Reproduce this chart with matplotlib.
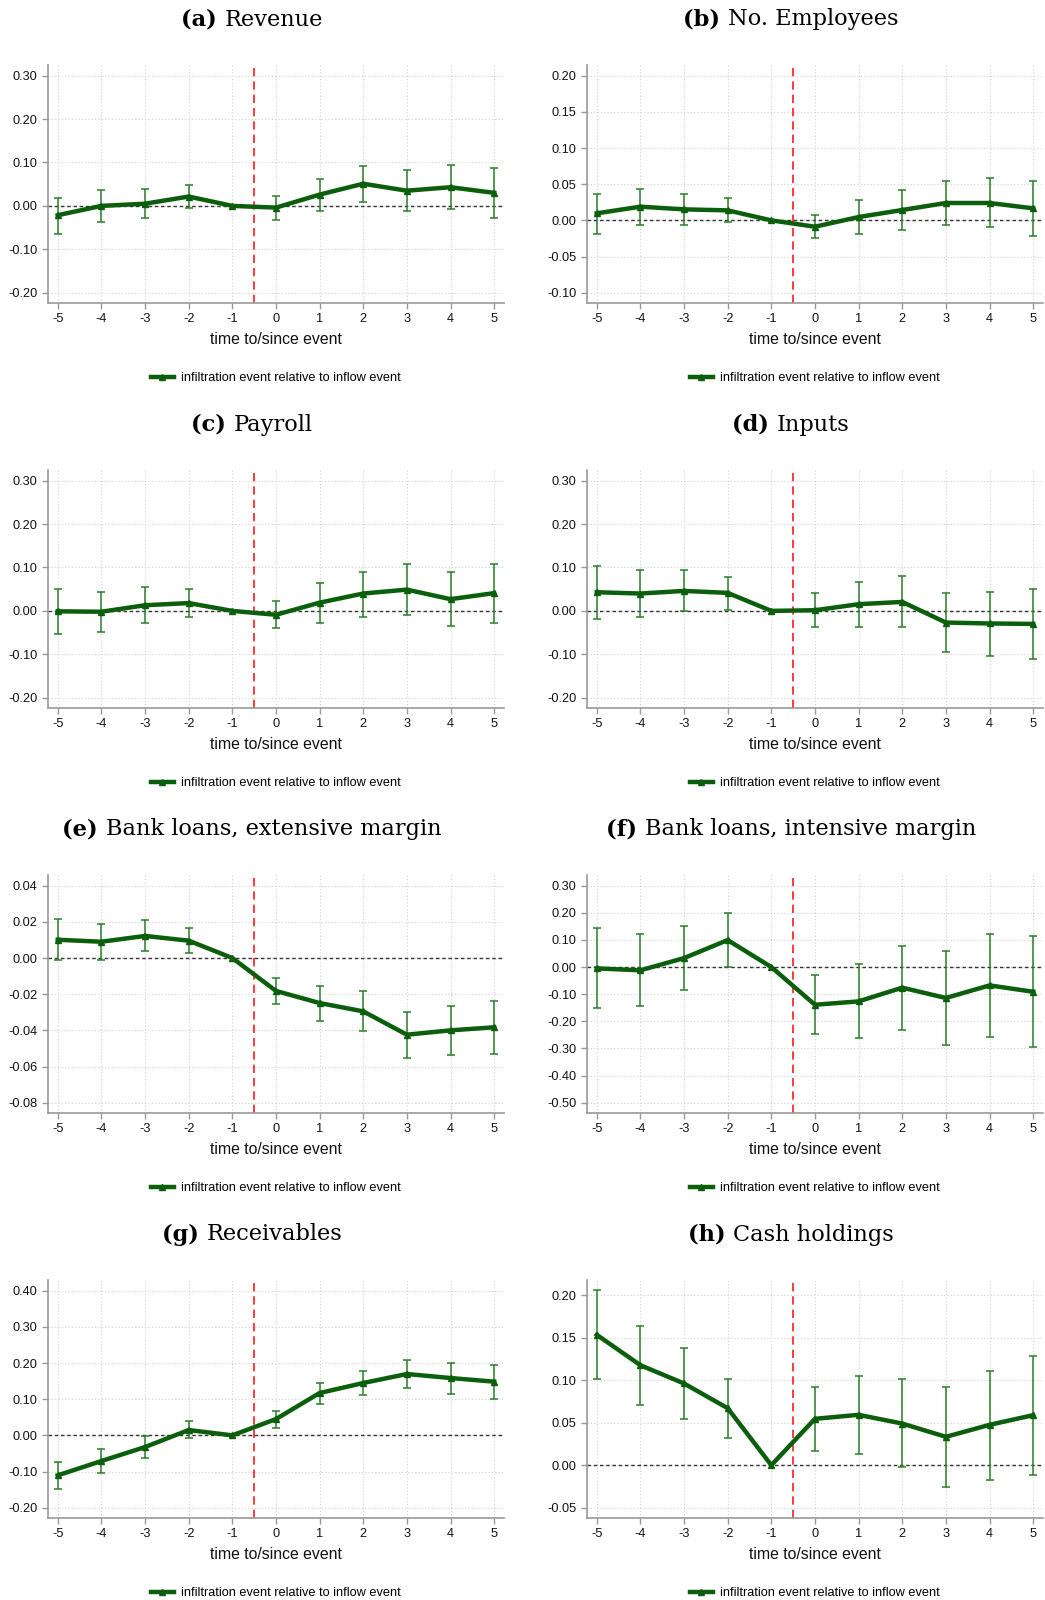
import numpy as np
import matplotlib
matplotlib.use("Agg")
import matplotlib.pyplot as plt
from matplotlib.lines import Line2D

plt.rcParams['font.family'] = ['Liberation Sans', 'DejaVu Sans']

# event time
periods = [-5, -4, -3, -2, -1, 0, 1, 2, 3, 4, 5]

# coefficient, upper and lower CI per panel -- period -1 is the reference (no CI)
rev_coef = [-0.0215, 0.0, 0.005, 0.0215, 0.0, -0.004, 0.026, 0.051, 0.035, 0.043, 0.030]
rev_hi = [0.019, 0.037, 0.038, 0.048, np.nan, 0.023, 0.062, 0.093, 0.082, 0.094, 0.087]
rev_lo = [-0.065, -0.038, -0.028, -0.006, np.nan, -0.032, -0.011, 0.010, -0.012, -0.008, -0.027]

emp_coef = [0.0097, 0.0189, 0.0152, 0.0138, 0.0, -0.0088, 0.0046, 0.0143, 0.024, 0.024, 0.0166]
emp_hi = [0.0364, 0.0429, 0.036, 0.0304, np.nan, 0.0069, 0.0281, 0.0415, 0.0548, 0.058, 0.0548]
emp_lo = [-0.0184, -0.006, -0.0065, -0.0023, np.nan, -0.0244, -0.0189, -0.0134, -0.0069, -0.0097, -0.0221]

pay_coef = [-0.001, -0.002, 0.013, 0.018, 0.0, -0.009, 0.019, 0.040, 0.049, 0.027, 0.041]
pay_hi = [0.051, 0.0445, 0.054, 0.051, np.nan, 0.023, 0.0645, 0.0906, 0.107, 0.089, 0.108]
pay_lo = [-0.054, -0.049, -0.028, -0.014, np.nan, -0.040, -0.027, -0.013, -0.0085, -0.035, -0.028]

inp_coef = [0.043, 0.040, 0.046, 0.0415, 0.0, 0.0015, 0.0154, 0.0207, -0.0269, -0.029, -0.030]
inp_hi = [0.103, 0.0945, 0.0937, 0.079, np.nan, 0.0415, 0.0676, 0.0806, 0.0415, 0.0445, 0.0507]
inp_lo = [-0.018, -0.0146, -0.001, 0.003, np.nan, -0.038, -0.037, -0.038, -0.095, -0.103, -0.1106]

ext_coef = [0.0101, 0.009, 0.0122, 0.0096, 0.0, -0.0182, -0.0249, -0.0295, -0.0424, -0.040, -0.0383]
ext_hi = [0.0214, 0.019, 0.0208, 0.0164, np.nan, -0.0111, -0.0155, -0.0184, -0.030, -0.0265, -0.0236]
ext_lo = [-0.0009, -0.0011, 0.0037, 0.0026, np.nan, -0.0256, -0.0347, -0.0406, -0.0553, -0.0535, -0.0533]

int_coef = [-0.005, -0.012, 0.033, 0.0995, 0.0, -0.139, -0.1265, -0.076, -0.114, -0.0676, -0.091]
int_hi = [0.144, 0.122, 0.152, 0.199, np.nan, -0.031, 0.0098, 0.077, 0.060, 0.1228, 0.113]
int_lo = [-0.152, -0.145, -0.085, 0.0, np.nan, -0.248, -0.263, -0.232, -0.2875, -0.256, -0.295]

rec_coef = [-0.1106, -0.071, -0.0323, 0.0147, 0.0, 0.045, 0.117, 0.1447, 0.1696, 0.1585, 0.1484]
rec_hi = [-0.0737, -0.0378, -0.0028, 0.0387, np.nan, 0.068, 0.1456, 0.179, 0.2083, 0.201, 0.1954]
rec_lo = [-0.148, -0.105, -0.0618, -0.0083, np.nan, 0.0203, 0.0876, 0.1106, 0.1318, 0.1143, 0.0995]

cash_coef = [0.1535, 0.1177, 0.0962, 0.0671, 0.0, 0.0546, 0.0593, 0.049, 0.0334, 0.0475, 0.0589]
cash_hi = [0.206, 0.1641, 0.1378, 0.102, np.nan, 0.0915, 0.1048, 0.1009, 0.0918, 0.111, 0.128]
cash_lo = [0.1013, 0.0706, 0.0542, 0.0322, np.nan, 0.0165, 0.0137, -0.0024, -0.0251, -0.0169, -0.011]

letters = ['(a)', '(b)', '(c)', '(d)', '(e)', '(f)', '(g)', '(h)']
titles = ['Revenue', 'No. Employees', 'Payroll', 'Inputs',
          'Bank loans, extensive margin', 'Bank loans, intensive margin',
          'Receivables', 'Cash holdings']
series = [(rev_coef, rev_hi, rev_lo), (emp_coef, emp_hi, emp_lo),
          (pay_coef, pay_hi, pay_lo), (inp_coef, inp_hi, inp_lo),
          (ext_coef, ext_hi, ext_lo), (int_coef, int_hi, int_lo),
          (rec_coef, rec_hi, rec_lo), (cash_coef, cash_hi, cash_lo)]
# y tick range (low, high, step) per panel
ytick_specs = [(-0.20, 0.30, 0.10), (-0.10, 0.20, 0.05), (-0.20, 0.30, 0.10),
               (-0.20, 0.30, 0.10), (-0.08, 0.04, 0.02), (-0.50, 0.30, 0.10),
               (-0.20, 0.40, 0.10), (-0.05, 0.20, 0.05)]
legend_label = 'infiltration event relative to inflow event'

W, H = 1045, 1600
fig = plt.figure(figsize=(W / 100, H / 100), dpi=100)

green = '#0b5e0b'
ci_green = '#2a7f2a'
col_x = [47.7, 586.7]
ax_w = 456.5
row_top = 65
ax_h = 237.7
row_step = 405

for i in range(8):
    r, c = divmod(i, 2)
    top = row_top + r * row_step
    ax = fig.add_axes([col_x[c] / W, 1 - (top + ax_h) / H, ax_w / W, ax_h / H])
    coef, hi, lo = series[i]
    x = np.array(periods)
    coef = np.array(coef); hi = np.array(hi); lo = np.array(lo)

    ax.axhline(0, color='#333333', ls=(0, (2.5, 2)), lw=1.0, zorder=1)
    ax.axvline(-0.5, color='#ff1a1a', ls=(0, (5, 3)), lw=1.2, zorder=1)
    ok = ~np.isnan(hi)
    ax.errorbar(x[ok], coef[ok], yerr=[coef[ok] - lo[ok], hi[ok] - coef[ok]],
                fmt='none', ecolor=ci_green, elinewidth=1.1, capsize=3,
                capthick=1.1, zorder=2)
    ax.plot(x, coef, color=green, lw=3.2, marker='^', ms=5, zorder=3)

    lo_t, hi_t, step = ytick_specs[i]
    n = int(round((hi_t - lo_t) / step))
    ticks = np.round(lo_t + step * np.arange(n + 1), 4)
    R = hi_t - lo_t
    if i == 7:
        ax.set_ylim(-0.0618, 0.218)
    else:
        ax.set_ylim(lo_t - 30 / 651 * R, hi_t + 32 / 651 * R)
    ax.set_xlim(-5.23, 5.23)
    ax.set_yticks(ticks)
    ax.set_yticklabels(['%.2f' % (t + 0.0) for t in ticks])
    ax.set_xticks(periods)
    ax.set_xticklabels([str(p) for p in periods])
    ax.grid(True, color='#d0d0d0', ls=(0, (1, 2)), lw=0.8)
    ax.set_axisbelow(True)
    for s in ['top', 'right']:
        ax.spines[s].set_visible(False)
    for s in ['left', 'bottom']:
        ax.spines[s].set_color('#999999')
        ax.spines[s].set_linewidth(1.2)
    ax.tick_params(colors='#999999', labelcolor='#111111', labelsize=9.2,
                   length=4, width=1)
    ax.set_xlabel('time to/since event', fontsize=11.4, color='#111111', labelpad=5)

    handle = Line2D([], [], color=green, lw=3.2, marker='^', ms=5)
    ax.legend([handle], [legend_label], loc='center', bbox_to_anchor=(0.5, -0.318),
              frameon=False, fontsize=9.2, handlelength=1.8, handletextpad=0.6)

    # title: bold letter + regular text, centred over the axes
    cx = (col_x[c] + ax_w / 2 - 24) / W
    ty = 1 - (19.5 + r * row_step) / H
    tb = fig.text(0, ty, letters[i] + ' ', fontsize=16.2, fontweight='bold',
                  family='DejaVu Serif', va='center')
    tr = fig.text(0, ty, titles[i], fontsize=16.2, family='DejaVu Serif',
                  va='center')
    fig.canvas.draw()
    rend = fig.canvas.get_renderer()
    wb = tb.get_window_extent(rend).width / W
    wr = tr.get_window_extent(rend).width / W
    x0 = cx - (wb + wr) / 2
    tb.set_x(x0)
    tr.set_x(x0 + wb)

fig.savefig('out.png', dpi=100)
